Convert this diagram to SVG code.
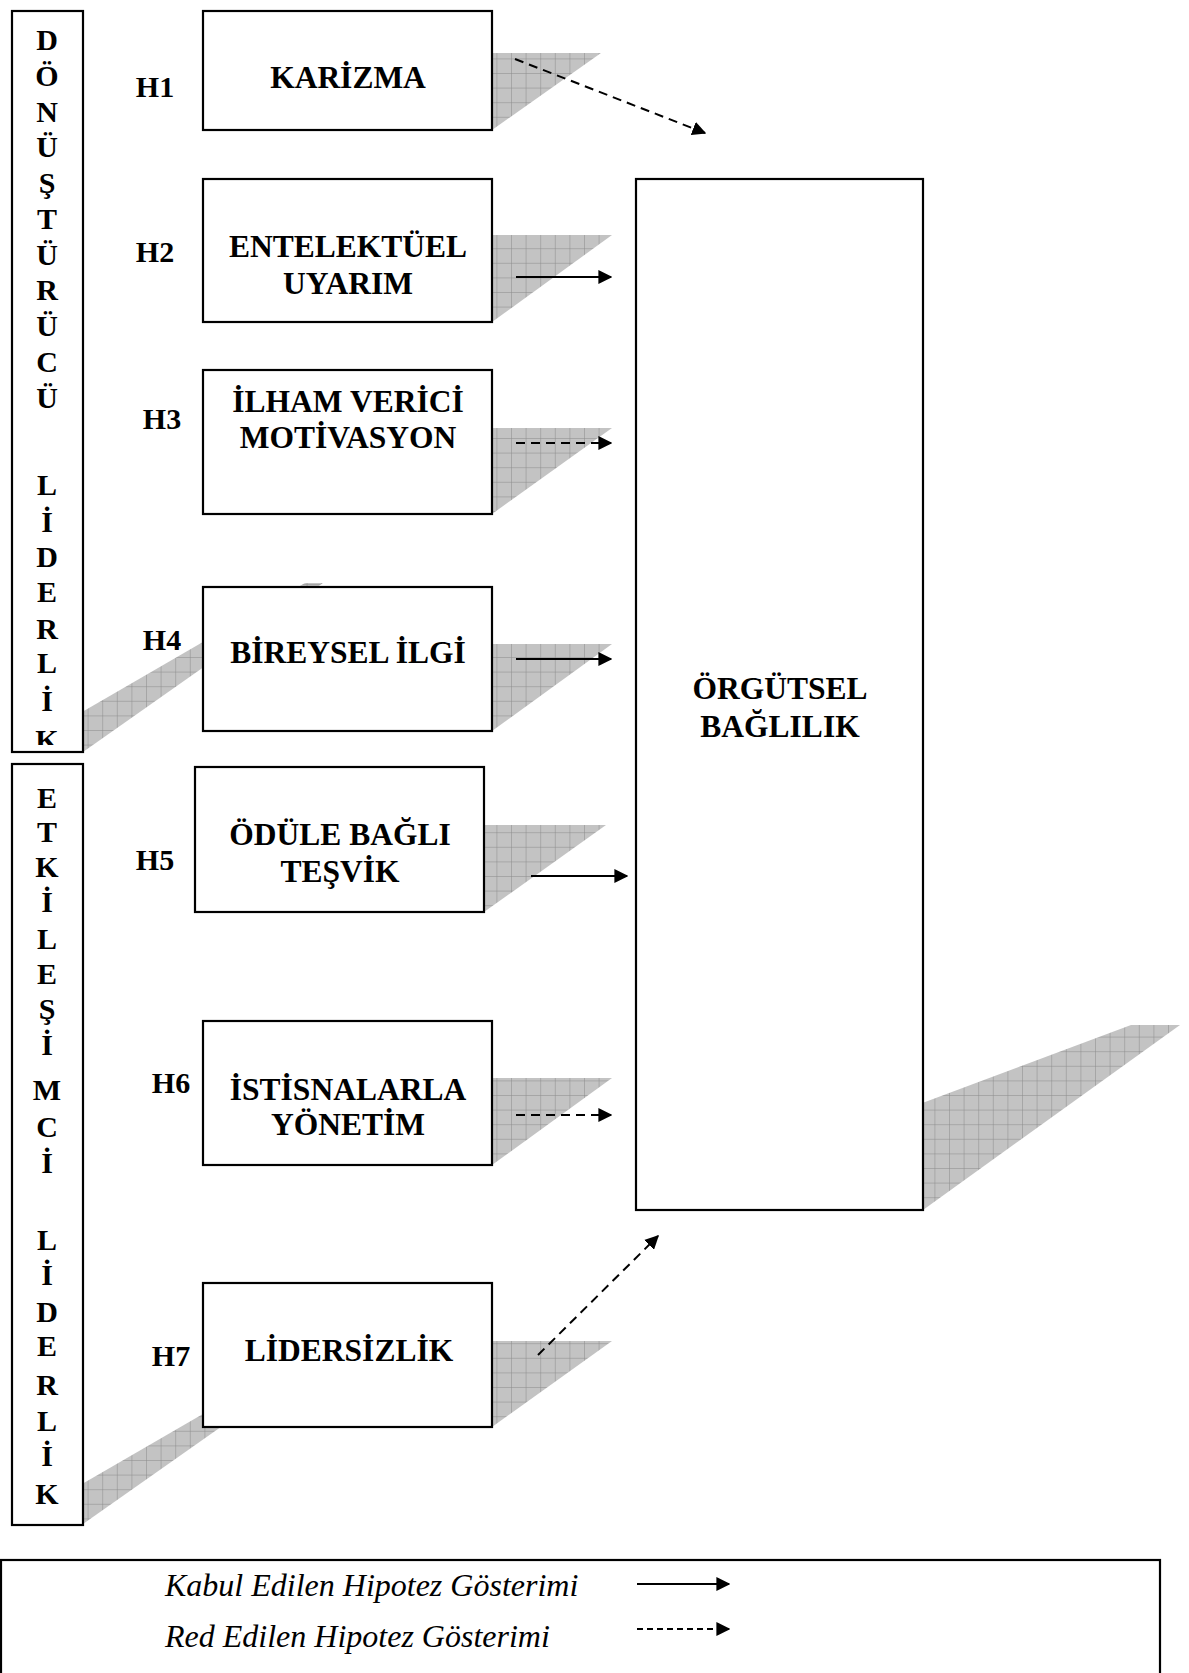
<svg xmlns="http://www.w3.org/2000/svg" width="1189" height="1673" viewBox="0 0 1189 1673">
<style>
.box{fill:#fff;stroke:#000;stroke-width:2.2}
.shadow{fill:url(#grid);stroke:none}
.lbl{font-family:"Liberation Serif","Times New Roman",serif;font-weight:bold;font-size:31.5px;text-anchor:middle;fill:#000}
.h{font-family:"Liberation Serif","Times New Roman",serif;font-weight:bold;font-size:30px;text-anchor:middle;fill:#000}
.v{font-family:"Liberation Serif","Times New Roman",serif;font-weight:bold;font-size:30px;text-anchor:middle;fill:#000}
.leg{font-family:"Liberation Serif","Times New Roman",serif;font-style:italic;font-size:32px;fill:#000}
.solid{stroke:#000;stroke-width:2;fill:none;marker-end:url(#ah)}
.dash{stroke:#000;stroke-width:2;fill:none;stroke-dasharray:9 6;marker-end:url(#ah)}
</style>
<defs>
<pattern id="grid" patternUnits="userSpaceOnUse" width="14.6" height="14.6">
<rect width="14.6" height="14.6" fill="#c3c3c3"/>
<path d="M0 0H14.6M0 0V14.6" stroke="#8a8a8a" stroke-width="1"/>
</pattern>
<marker id="ah" viewBox="0 0 10 10" refX="9" refY="5" markerWidth="7" markerHeight="7" markerUnits="strokeWidth" orient="auto">
<path d="M0 0L10 5L0 10z" fill="#000"/>
</marker>
<clipPath id="clipTop"><rect x="12" y="11" width="71" height="734"/></clipPath>
</defs>

<g id="shadows">
<polygon class="shadow" points="13,752 83,752 323,583 305,583"/>
<polygon class="shadow" points="13,1524 83,1524 323,1355 305,1355"/>
<polygon class="shadow" points="203,130 492,130 601,53 300,53"/>
<polygon class="shadow" points="203,322 492,322 612,235 300,235"/>
<polygon class="shadow" points="203,514 492,514 612,428 300,428"/>
<polygon class="shadow" points="203,731 492,731 612,644 300,644"/>
<polygon class="shadow" points="195,912 484,912 606,825 300,825"/>
<polygon class="shadow" points="203,1165 492,1165 612,1078 300,1078"/>
<polygon class="shadow" points="203,1427 492,1427 612,1341 300,1341"/>
<polygon class="shadow" points="636,1210 923,1210 1180,1025 1131,1025"/>
</g>

<g id="donusturucu">
<rect class="box" x="12" y="11" width="71" height="741"/>
<g clip-path="url(#clipTop)">
<text class="v" x="47" y="50">D</text>
<text class="v" x="47" y="86">Ö</text>
<text class="v" x="47" y="122">N</text>
<text class="v" x="47" y="157">Ü</text>
<text class="v" x="47" y="193">Ş</text>
<text class="v" x="47" y="229">T</text>
<text class="v" x="47" y="265">Ü</text>
<text class="v" x="47" y="300">R</text>
<text class="v" x="47" y="336">Ü</text>
<text class="v" x="47" y="372">C</text>
<text class="v" x="47" y="408">Ü</text>
<text class="v" x="47" y="495">L</text>
<text class="v" x="47" y="532">İ</text>
<text class="v" x="47" y="567">D</text>
<text class="v" x="47" y="602">E</text>
<text class="v" x="47" y="639">R</text>
<text class="v" x="47" y="673">L</text>
<text class="v" x="47" y="711">İ</text>
<text class="v" x="47" y="750">K</text>
</g>
</g>

<g id="etkilesimci">
<rect class="box" x="12" y="764" width="71" height="761"/>
<text class="v" x="47" y="808">E</text>
<text class="v" x="47" y="842">T</text>
<text class="v" x="47" y="877">K</text>
<text class="v" x="47" y="912">İ</text>
<text class="v" x="47" y="949">L</text>
<text class="v" x="47" y="984">E</text>
<text class="v" x="47" y="1019">Ş</text>
<text class="v" x="47" y="1055">İ</text>
<text class="v" x="47" y="1100">M</text>
<text class="v" x="47" y="1137">C</text>
<text class="v" x="47" y="1173">İ</text>
<text class="v" x="47" y="1250">L</text>
<text class="v" x="47" y="1285">İ</text>
<text class="v" x="47" y="1322">D</text>
<text class="v" x="47" y="1356">E</text>
<text class="v" x="47" y="1395">R</text>
<text class="v" x="47" y="1431">L</text>
<text class="v" x="47" y="1466">İ</text>
<text class="v" x="47" y="1504">K</text>
</g>

<g id="h-labels">
<text class="h" x="155" y="97">H1</text>
<text class="h" x="155" y="262">H2</text>
<text class="h" x="162" y="429">H3</text>
<text class="h" x="162" y="650">H4</text>
<text class="h" x="155" y="870">H5</text>
<text class="h" x="171" y="1093">H6</text>
<text class="h" x="171" y="1366">H7</text>
</g>

<g id="karizma">
<rect class="box" x="203" y="11" width="289" height="119"/>
<text class="lbl" x="348" y="88">KARİZMA</text>
</g>
<g id="entelektuel">
<rect class="box" x="203" y="179" width="289" height="143"/>
<text class="lbl" x="348" y="257">ENTELEKTÜEL</text>
<text class="lbl" x="348" y="294">UYARIM</text>
</g>
<g id="ilham">
<rect class="box" x="203" y="370" width="289" height="144"/>
<text class="lbl" x="348" y="412">İLHAM VERİCİ</text>
<text class="lbl" x="348" y="448">MOTİVASYON</text>
</g>
<g id="bireysel">
<rect class="box" x="203" y="587" width="289" height="144"/>
<text class="lbl" x="348" y="663">BİREYSEL İLGİ</text>
</g>
<g id="odule">
<rect class="box" x="195" y="767" width="289" height="145"/>
<text class="lbl" x="340" y="845">ÖDÜLE BAĞLI</text>
<text class="lbl" x="340" y="882">TEŞVİK</text>
</g>
<g id="istisnalarla">
<rect class="box" x="203" y="1021" width="289" height="144"/>
<text class="lbl" x="348" y="1100">İSTİSNALARLA</text>
<text class="lbl" x="348" y="1135">YÖNETİM</text>
</g>
<g id="lidersizlik">
<rect class="box" x="203" y="1283" width="289" height="144"/>
<text class="lbl" x="349" y="1361">LİDERSİZLİK</text>
</g>
<g id="orgutsel">
<rect class="box" x="636" y="179" width="287" height="1031"/>
<text class="lbl" x="780" y="699">ÖRGÜTSEL</text>
<text class="lbl" x="780" y="737">BAĞLILIK</text>
</g>

<g id="connectors">
<line class="dash" x1="515" y1="59" x2="705" y2="133"/>
<line class="solid" x1="516" y1="277" x2="611" y2="277"/>
<line class="dash" x1="516" y1="443" x2="611" y2="443"/>
<line class="solid" x1="516" y1="659" x2="611" y2="659"/>
<line class="solid" x1="531" y1="876" x2="627" y2="876"/>
<line class="dash" x1="516" y1="1115" x2="611" y2="1115"/>
<line class="dash" x1="538" y1="1355" x2="658" y2="1236"/>
</g>

<g id="legend">
<rect x="1" y="1560" width="1159" height="130" fill="none" stroke="#000" stroke-width="2.2"/>
<text class="leg" x="165" y="1596">Kabul Edilen Hipotez Gösterimi</text>
<text class="leg" x="165" y="1647">Red Edilen Hipotez Gösterimi</text>
<line class="solid" x1="637" y1="1584" x2="729" y2="1584"/>
<line class="dash" x1="637" y1="1629" x2="729" y2="1629" style="stroke-dasharray:6 4"/>
</g>
</svg>
